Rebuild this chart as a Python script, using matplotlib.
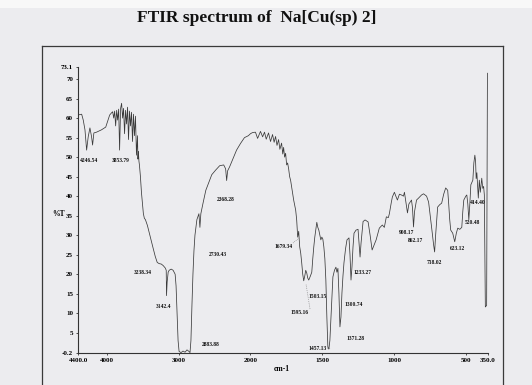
import numpy as np
import matplotlib
matplotlib.use("Agg")
import matplotlib.pyplot as plt
from matplotlib.lines import Line2D

# ---------------- data ----------------
wavenumber = [
    4400, 4349, 4327, 4303, 4280, 4258, 4234, 4211, 4197, 4179, 4142, 4073, 4014, 3996, 3959, 3921,
    3917, 3903, 3890, 3876, 3862, 3848, 3834, 3821, 3807, 3793, 3779, 3766, 3752, 3738, 3724, 3710,
    3697, 3683, 3669, 3655, 3641, 3628, 3614, 3600, 3586, 3572, 3566, 3559, 3552,
    3545, 3531, 3517, 3503, 3490, 3476, 3462, 3434, 3407, 3379, 3352, 3324, 3297, 3269, 3241, 3214,
    3186, 3172, 3168, 3159, 3145, 3131, 3103, 3076, 3048, 3035, 3021, 3007, 2993, 2966, 2938, 2910,
    2883, 2855, 2841, 2828, 2814, 2800, 2786, 2772, 2745, 2717, 2703, 2690, 2662, 2621, 2579, 2538,
    2483, 2428, 2372, 2345, 2331, 2317, 2290, 2234, 2193, 2138, 2083, 2028, 2000,
    1985, 1965, 1950, 1930, 1915, 1902, 1890, 1874, 1860, 1846, 1835, 1825, 1815, 1804, 1795, 1783,
    1775, 1769, 1762, 1755, 1748, 1741, 1734, 1727, 1720, 1713, 1699, 1685, 1678, 1671, 1664, 1657,
    1650, 1643, 1636, 1629, 1622, 1615, 1608, 1601, 1594, 1583, 1573, 1566, 1559, 1552, 1545, 1538,
    1531, 1524, 1517, 1510, 1503, 1496, 1489, 1482, 1475, 1468, 1461, 1454, 1447, 1440, 1433, 1426,
    1415, 1405, 1398, 1391, 1384, 1377, 1370, 1363, 1356, 1349, 1338, 1328, 1314, 1307, 1300, 1293,
    1286, 1279, 1265, 1251, 1244, 1237, 1230, 1216, 1202, 1181, 1167, 1153, 1139, 1125, 1103, 1082,
    1068, 1054, 1040, 1033, 1019, 1012, 998, 988, 977, 963, 949, 935, 928, 918, 907, 897,
    879, 872, 865, 858, 844, 830, 809, 795, 774, 760, 753, 739, 725, 718, 711, 697,
    683, 669, 655, 641, 627, 620, 613, 606, 592, 578, 567, 557, 543, 529, 522, 515,
    501, 494, 487, 480, 473, 466, 452, 445, 438, 433, 429, 424, 414, 407, 400, 390,
    383, 377, 372, 365, 356, 350.5,
]
transmittance = [
    60.8, 61.0, 59.5, 57.0, 51.8, 55.2, 57.5, 55.2, 53.1, 56.2, 56.4, 57.0, 57.7, 58.7, 60.8, 61.6,
    61.6, 60.0, 61.8, 58.0, 62.0, 59.5, 62.3, 51.8, 62.5, 63.8, 60.0, 62.5, 56.0, 62.0, 58.5, 62.8,
    54.5, 61.8, 58.0, 61.5, 54.0, 61.0, 55.5, 60.5, 50.5, 55.5, 49.5, 51.5, 49.0,
    48.0, 45.0, 41.0, 38.0, 35.5, 34.3, 34.0, 32.5, 30.5, 28.5, 26.5, 24.5, 23.0, 22.7, 22.6, 22.2,
    21.6, 21.0, 14.5, 18.0, 20.5, 21.0, 21.3, 21.0, 20.0, 17.0, 10.0, 3.0, 0.2, -0.1, 0.3, 0.0,
    0.6, 0.2, -0.1, 3.0, 12.0, 20.0, 26.0, 30.0, 34.0, 35.5, 32.0, 35.5, 38.0, 41.5, 43.5, 45.5,
    46.7, 47.8, 48.0, 47.0, 44.0, 46.5, 47.5, 50.0, 51.8, 53.5, 55.0, 55.5, 56.0,
    56.3, 56.4, 54.8, 56.6, 55.2, 56.4, 54.6, 56.2, 54.0, 55.8, 53.8, 55.3, 53.0, 54.5, 52.0, 53.6,
    50.8, 52.5, 50.0, 51.0, 48.0, 48.5, 47.0, 45.0, 44.0, 42.3, 39.0, 36.4, 33.9, 29.5, 31.0, 27.0,
    25.4, 22.9, 20.0, 18.3, 19.5, 21.0, 20.3, 19.0, 18.5, 19.5, 20.5, 24.0, 27.0, 29.5, 31.5, 33.3,
    32.0, 31.3, 30.0, 28.8, 29.5, 29.0, 27.0, 24.0, 18.5, 9.0, 1.3, 0.8, 3.0, 8.3, 14.0, 19.3,
    21.0, 21.8, 20.5, 21.5, 15.0, 6.5, 9.0, 15.2, 19.5, 22.9, 26.5, 28.8, 29.3, 25.0, 18.5, 22.0,
    27.0, 30.5, 31.3, 31.5, 28.0, 24.4, 28.0, 33.5, 33.9, 33.4, 30.0, 26.2, 27.5, 28.8, 31.8, 32.6,
    32.0, 34.7, 34.5, 35.5, 38.5, 39.8, 41.0, 40.0, 39.0, 40.5, 40.3, 40.0, 41.0, 38.5, 35.7, 38.0,
    39.0, 37.0, 32.1, 36.0, 39.0, 39.5, 40.3, 40.6, 40.0, 38.5, 36.4, 32.0, 27.5, 25.7, 30.0, 37.2,
    37.8, 38.2, 40.5, 42.1, 41.5, 38.0, 34.0, 31.3, 30.5, 28.3, 30.5, 31.8, 31.5, 32.0, 36.0, 39.0,
    40.0, 40.3, 38.0, 33.9, 38.0, 42.9, 44.1, 48.5, 50.5, 49.0, 44.5, 46.0, 39.5, 44.1, 41.0, 44.6,
    42.0, 42.5, 40.3, 11.6, 12.0, 71.5,
]

x_ticks = [4400, 4000, 3000, 2000, 1500, 1000, 500, 350]
x_tick_labels = ["4400.0", "4000", "3000", "2000", "1500", "1000", "500", "350.0"]
y_ticks = [-0.2, 5, 10, 15, 20, 25, 30, 35, 40, 45, 50, 55, 60, 65, 70, 73.1]
y_tick_labels = ["-0.2", "5", "10", "15", "20", "25", "30", "35", "40", "45", "50", "55",
                 "60", "65", "70", "73.1"]

peak_labels = ["4246.54", "3853.79", "3238.34", "3142.4", "2883.88", "2730.43", "2368.28",
               "1679.34", "1595.16", "1503.15", "1457.13", "1300.74", "1371.28", "1233.27",
               "908.17", "862.17", "718.02", "623.12", "520.48", "414.40"]

title_text = "FTIR spectrum of  Na[Cu(sp) 2]"

# ---------------- layout ----------------
W, H = 532, 385
fig = plt.figure(figsize=(W / 100, H / 100), dpi=100)
fig.patch.set_facecolor("#ececef")

def fx(px):
    return px / W

def fy(py):
    return 1 - py / H

# white band at the top of the scan
fig.add_artist(plt.Rectangle((0, fy(8)), 1, 8 / H, transform=fig.transFigure,
                             facecolor="#f8f8f8", edgecolor="none", zorder=0))

# outer frame of the printout
frame_kw = dict(transform=fig.transFigure, color="#3a3a3a", lw=0.9)
fig.add_artist(Line2D([fx(42), fx(42)], [fy(46), 0], **frame_kw))
fig.add_artist(Line2D([fx(42), fx(503)], [fy(46), fy(46)], **frame_kw))
fig.add_artist(Line2D([fx(503), fx(503)], [fy(46), 0], **frame_kw))

fig.text(fx(257), fy(18), title_text, ha="center", va="center", fontsize=12.5,
         fontweight="bold", family="Liberation Serif", color="#111111")

ax = fig.add_axes([fx(78), fy(353), fx(487.5) - fx(78), (353 - 67) / H])
ax.set_facecolor("none")


def fwd(x):
    x = np.asarray(x, dtype=float)
    return np.where(x >= 2000, x, 2 * x - 2000)


def inv(u):
    u = np.asarray(u, dtype=float)
    return np.where(u >= 2000, u, (u + 2000) / 2)


ax.set_xscale("function", functions=(fwd, inv))
ax.plot(wavenumber, transmittance, color="#3a3a3a", lw=0.55)
ax.set_xlim(4400, 350)
ax.set_ylim(-0.2, 73.1)

for s in ("top", "right"):
    ax.spines[s].set_visible(False)
for s in ("left", "bottom"):
    ax.spines[s].set_color("#333333")
    ax.spines[s].set_linewidth(0.8)

ax.set_xticks(x_ticks)
ax.set_xticklabels(x_tick_labels)
ax.set_yticks(y_ticks)
ax.set_yticklabels(y_tick_labels)
ax.xaxis.set_minor_locator(matplotlib.ticker.NullLocator())
ax.tick_params(axis="both", length=1.5, width=0.6, color="#333333", pad=2,
               labelsize=5)
for lab in ax.get_xticklabels() + ax.get_yticklabels():
    lab.set_fontweight("bold")
    lab.set_family("Liberation Serif")

fig.text(fx(59), fy(214), "%T", ha="center", va="center", fontsize=5.5,
         fontweight="bold", family="Liberation Serif")
fig.text(fx(282), fy(369), "cm-1", ha="center", va="center", fontsize=5.5,
         fontweight="bold", family="Liberation Serif")

label_px = [(89, 161), (121, 161), (143, 272), (164, 307), (211, 345), (218, 254), (226, 200),
            (284, 246), (300, 312), (318, 297), (318, 349), (354, 304), (356, 339), (362, 273),
            (407, 233), (415, 241), (434, 262), (457, 249), (472, 222), (478, 203)]
for txt, (px, py) in zip(peak_labels, label_px):
    fig.text(fx(px), fy(py), txt, ha="center", va="center", fontsize=4,
             fontweight="bold", family="Liberation Serif", color="#111111")

lead_kw = dict(transform=fig.transFigure, color="#777777", lw=0.5, ls=":")
fig.add_artist(Line2D([fx(293), fx(299)], [fy(243), fy(238)], **lead_kw))
fig.add_artist(Line2D([fx(310), fx(306)], [fy(309), fy(284)], **lead_kw))
fig.add_artist(Line2D([fx(327), fx(330)], [fy(348), fy(348)], **lead_kw))

fig.savefig("out.png", dpi=100, facecolor=fig.get_facecolor())
